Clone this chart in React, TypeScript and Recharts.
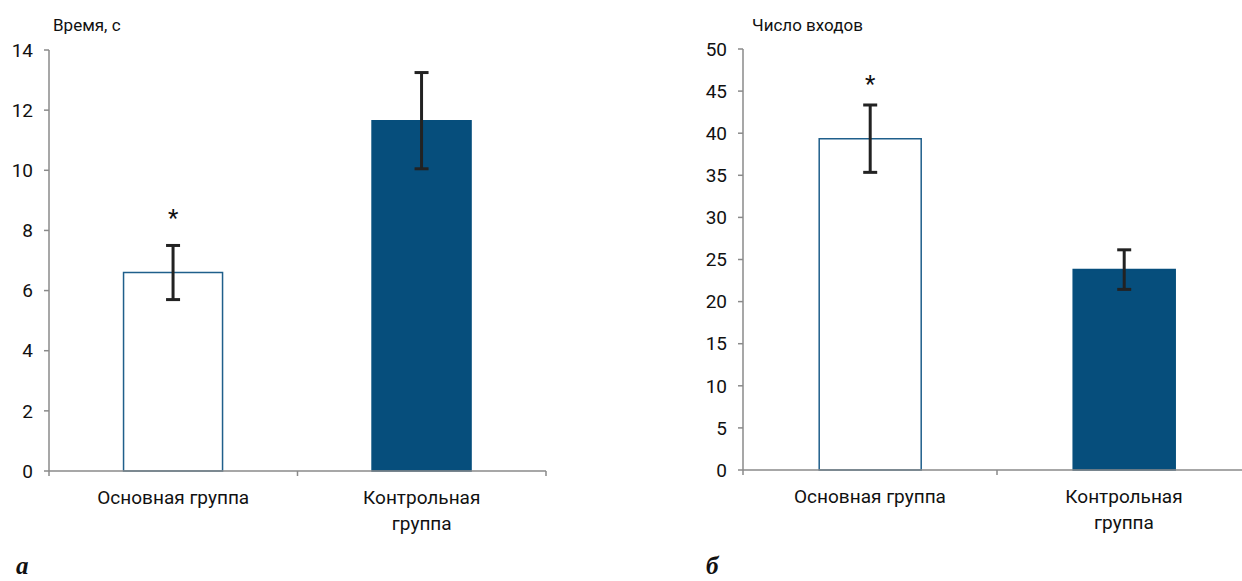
import React from "react";
import { BarChart, Bar, XAxis, YAxis, ErrorBar, Cell, LabelList } from "recharts";

const categories = ["Основная группа", "Контрольная\nгруппа"];

const timeValues = [6.6, 11.65];
const timeErrors = [0.9, 1.6];
const timeStars = ["*", ""];
const timeTicks = [0, 2, 4, 6, 8, 10, 12, 14];

const entryValues = [39.35, 23.8];
const entryErrors = [4.0, 2.35];
const entryStars = ["*", ""];
const entryTicks = [0, 5, 10, 15, 20, 25, 30, 35, 40, 45, 50];

const dataA = categories.map((c, i) => ({ name: c, value: timeValues[i], err: timeErrors[i], star: timeStars[i] }));
const dataB = categories.map((c, i) => ({ name: c, value: entryValues[i], err: entryErrors[i], star: entryStars[i] }));

const FILLS = ["#ffffff", "#064e7c"];
const STROKES = ["#1f5f8b", "#064e7c"];
const AXIS = "#8a8a8a";
const TEXT = "#111111";
const FONT = "Roboto, 'Noto Sans', sans-serif";

const CatTick = (props: any) => {
  const { x, y, payload, index, visibleTicksCount } = props;
  const half = payload && typeof payload.offset === "number" && payload.offset > 0 ? payload.offset : 125;
  const lines = String(payload.value).split("\n");
  const last = index === (visibleTicksCount ?? 2) - 1;
  return (
    <g>
      <line x1={x - half} x2={x - half} y1={y} y2={y + 5} stroke={AXIS} strokeWidth={1.5} />
      {last && <line x1={x + half} x2={x + half} y1={y} y2={y + 5} stroke={AXIS} strokeWidth={1.5} />}
      {lines.map((l, i) => (
        <text key={i} x={x} y={y + 26 + i * 26} textAnchor="middle" dominantBaseline="central"
          fill={TEXT} fontSize={19} fontFamily={FONT}>{l}</text>
      ))}
    </g>
  );
};

const Star = (props: any) => {
  const { x, y, width, value } = props;
  if (!value) return null;
  return (
    <text x={Number(x) + Number(width) / 2} y={Number(y) - 47} textAnchor="middle"
      fill={TEXT} fontSize={24} fontFamily={FONT}>{value}</text>
  );
};

function Panel({ data, domain, ticks, yWidth, marginRight }: any) {
  return (
    <BarChart width={600} height={581} data={data}
      margin={{ top: 50, right: marginRight, bottom: 50, left: 0 }} barCategoryGap="30%">
      <YAxis domain={domain} ticks={ticks} width={yWidth} interval={0}
        axisLine={{ stroke: AXIS, strokeWidth: 1.5 }} tickLine={{ stroke: AXIS, strokeWidth: 1.5 }}
        tickSize={5} tickMargin={11}
        tick={{ fill: TEXT, fontSize: 19, fontFamily: FONT }} />
      <XAxis dataKey="name" height={60} interval={0} tickLine={false} tickSize={0} tickMargin={0}
        axisLine={{ stroke: AXIS, strokeWidth: 1.5 }} tick={<CatTick />} />
      <Bar dataKey="value" isAnimationActive={false} strokeWidth={1.5}>
        {data.map((_: any, i: number) => (
          <Cell key={i} fill={FILLS[i]} stroke={STROKES[i]} />
        ))}
        <ErrorBar dataKey="err" width={7} strokeWidth={3} stroke="#222222" direction="y" />
        <LabelList dataKey="star" content={<Star />} />
      </Bar>
    </BarChart>
  );
}

export default function App() {
  return (
    <div style={{ position: "absolute", left: 0, top: 0, width: 1242, height: 581, overflow: "hidden", background: "#fff" }}>
      <div style={{ position: "absolute", left: 0, top: 0 }}>
        <Panel data={dataA} domain={[0, 14]} ticks={timeTicks} yWidth={49} marginRight={54} />
      </div>
      <div style={{ position: "absolute", left: 680, top: -1 }}>
        <Panel data={dataB} domain={[0, 50]} ticks={entryTicks} yWidth={63} marginRight={29} />
      </div>
      <span style={{ position: "absolute", left: 53, top: 15, fontSize: 17, fontFamily: FONT, color: TEXT, lineHeight: "20px" }}>Время, с</span>
      <span style={{ position: "absolute", left: 752, top: 15, fontSize: 17, fontFamily: FONT, color: TEXT, lineHeight: "20px" }}>Число входов</span>
      <span style={{ position: "absolute", left: 16, top: 552, fontSize: 25, lineHeight: "28px", fontWeight: "bold", fontStyle: "italic", fontFamily: "'Liberation Serif', serif", color: TEXT }}>а</span>
      <span style={{ position: "absolute", left: 706, top: 552, fontSize: 25, lineHeight: "28px", fontWeight: "bold", fontStyle: "italic", fontFamily: "'Liberation Serif', serif", color: TEXT }}>б</span>
    </div>
  );
}
